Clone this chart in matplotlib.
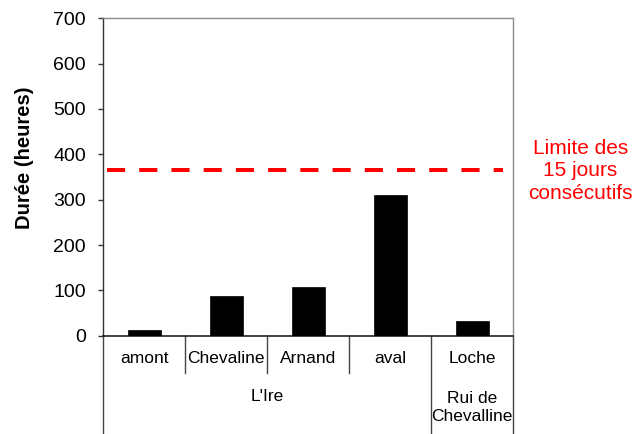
import matplotlib.pyplot as plt
import matplotlib.transforms as mtransforms

plt.rcParams['font.family'] = ['Liberation Sans', 'DejaVu Sans']

# Durée cumulée par station (heures)
stations = ["amont", "Chevaline", "Arnand", "aval", "Loche"]
durees = [12, 88, 107, 310, 32]
cours_eau = ["L'Ire", "Rui de\nChevalline"]
groupes = [(0, 3), (4, 4)]
limite = 366
yticks = [0, 100, 200, 300, 400, 500, 600, 700]

fig = plt.figure(figsize=(6.39, 4.34), dpi=100)
ax = fig.add_axes([0.1617, 0.2265, 0.6416, 0.7313])

x = list(range(len(stations)))
ax.bar(x, durees, width=0.41, color="black", edgecolor="black", linewidth=0.5, zorder=3)
ax.plot([-0.45, 4.38], [limite, limite], color="#ff0000", linewidth=2.9,
        linestyle=(0, (4.5, 3.5)), zorder=2)

ax.set_xlim(-0.5, len(stations) - 0.5)
ax.set_ylim(0, 700)
ax.set_yticks(yticks)
ax.tick_params(axis="y", direction="out", length=3.6, width=1, labelsize=14, pad=9, color="#333333")
ax.set_xticks([])

for side in ["top", "right"]:
    ax.spines[side].set_color("#8c8c8c")
    ax.spines[side].set_linewidth(1)
ax.spines["left"].set_color("#333333")
ax.spines["bottom"].set_color("#222222")
ax.spines["left"].set_linewidth(1)
ax.spines["bottom"].set_linewidth(1.2)

fig.text(24 / 639, 1 - 157.5 / 434, "Durée (heures)", rotation=90, ha="center", va="center",
         fontsize=14.5, fontweight="bold")

# Etiquettes sous l'axe, en forme de tableau
trans = mtransforms.blended_transform_factory(ax.transData, ax.transAxes)
group_edges = {g[0] - 0.5 for g in groupes} | {groupes[-1][1] + 0.5}
for b in range(len(stations) + 1):
    xb = b - 0.5
    y_end = -0.31 if xb in group_edges else -0.1175
    ax.plot([xb, xb], [0, y_end], color="#444444", linewidth=1, transform=trans, clip_on=False)

for xi, name in zip(x, stations):
    ax.text(xi, -0.0734, name, transform=trans, ha="center", va="center", fontsize=12.5)

ax.text(1.5, -0.192, cours_eau[0], transform=trans, ha="center", va="center", fontsize=12.5)
ax.text(4, -0.227, cours_eau[1], transform=trans, ha="center", va="center", fontsize=12.5,
        linespacing=1.25)

fig.text(580.5 / 639, 1 - 171 / 434, "Limite des\n15 jours\nconsécutifs", color="#ff0000",
         ha="center", va="center", fontsize=15, linespacing=1.25)

fig.savefig("out.png", dpi=100)
